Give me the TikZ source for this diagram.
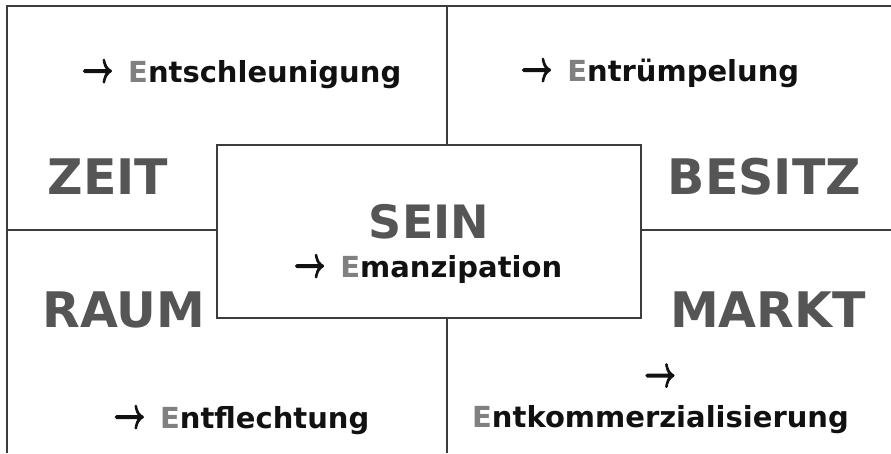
\documentclass[tikz,border=0pt]{standalone}
\usepackage{fontspec}
\usepackage{graphicx}
\setmainfont{DejaVu Sans}
\definecolor{linec}{HTML}{3C3C3C}
\definecolor{bigc}{HTML}{555555}
\definecolor{egray}{HTML}{808080}
\definecolor{txtc}{HTML}{111111}
\newcommand\gE{{\color{egray}E}}
\newcommand\arw{\scalebox{1.1}[1.75]{\special{pdf:literal direct 2 Tr 0.75 w}\boldmath$\rightarrow$\special{pdf:literal direct 0 Tr}}}
\tikzset{
  ln/.style={draw=linec, line width=2pt},
  bigword/.style={font=\bfseries\fontsize{49}{49}\selectfont, text=bigc, inner sep=0pt, anchor=base},
  seinword/.style={font=\bfseries\fontsize{46}{46}\selectfont, text=bigc, inner sep=0pt, anchor=base},
  smallword/.style={font=\bfseries\fontsize{29}{29}\selectfont, text=txtc, inner sep=0pt, anchor=base},
}
\begin{document}
\begin{tikzpicture}[x=1pt,y=-1pt]
\useasboundingbox (0,0) rectangle (891,453);
% frame corners and divider ends
\coordinate (tl) at (7,5.5);
\coordinate (tr) at (891,5.5);
\coordinate (bl) at (7,453);
\coordinate (vt) at (447.3,5.5);
\coordinate (vb) at (447.3,453);
\coordinate (hl) at (7,230);
\coordinate (hr) at (891,230);
% central box
\node[ln, minimum width=424pt, minimum height=173pt, inner sep=0pt] (box) at (429,231.5) {};
% frame
\draw[ln] (tr) -- (tl) -- (bl);
% dividers
\draw[ln] (vt) -- (box.north -| vt);
\draw[ln] (box.south -| vb) -- (vb);
\draw[ln] (hl) -- (box.west |- hl);
\draw[ln] (box.east |- hr) -- (hr);
% big words
\node[bigword] (zeit) at (108,194) {ZEIT};
\node[bigword] (besitz) at (764.5,194) {BESITZ};
\node[bigword] (raum) at (124,327) {RAUM};
\node[bigword] (markt) at (768,327) {MARKT};
\node[seinword] (sein) at (429,238) {SEIN};
% small words
\node[smallword] (entsch) at (241.5,82) {\arw\hspace{15pt}\gE ntschleunigung};
\node[smallword] (entruem) at (660,81) {\arw\hspace{15pt}\gE ntrümpelung};
\node[smallword] (eman) at (428,277) {\arw\hspace{15pt}\gE manzipation};
\node[smallword] (entfl) at (241.5,428) {\arw\hspace{15pt}\gE ntflechtung};
\node[smallword, anchor=center] (arr) at (660,378) {\arw};
\node[smallword] (entkomm) at (660.5,427) {\gE ntkommerzialisierung};
\end{tikzpicture}
\end{document}
